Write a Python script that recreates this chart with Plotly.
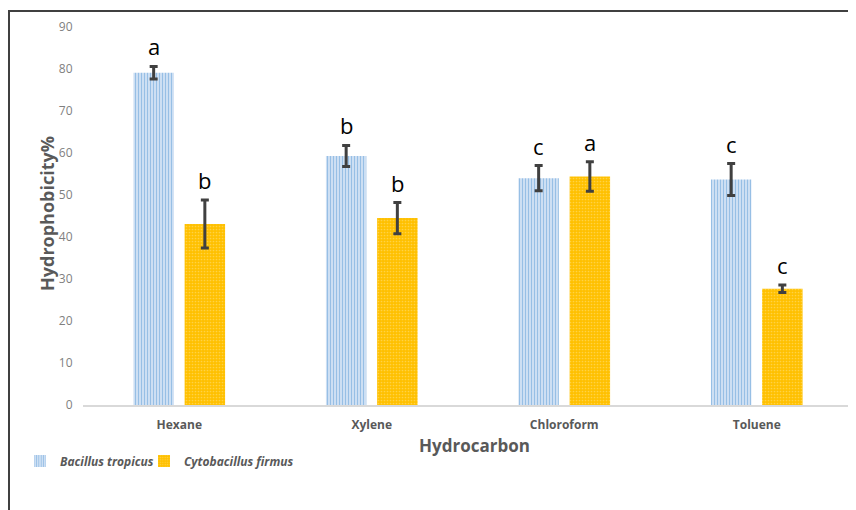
import plotly.graph_objects as go

categories = ["Hexane", "Xylene", "Chloroform", "Toluene"]
bt_values = [79.1, 59.3, 54.0, 53.7]
bt_errors = [1.5, 2.5, 3.0, 3.8]
bt_letters = ["a", "b", "c", "c"]
cf_values = [43.1, 44.5, 54.4, 27.7]
cf_errors = [5.7, 3.7, 3.5, 0.9]
cf_letters = ["b", "b", "a", "c"]
y_ticks = [0, 10, 20, 30, 40, 50, 60, 70, 80, 90]

OFF = 8  # page body margin
W, H = 856 - OFF, 510 - OFF
# desired absolute plot area: x 83..853, y 27..405
L, R, T, B = 83 - OFF, 3, 27 - OFF, 510 - 405
pw, ph = W - L - R, H - T - B


def px(xa):
    return (xa - 83) / pw


def py(ya):
    return (405 - ya) / ph


fig = go.Figure()
fig.add_trace(go.Bar(
    x=categories, y=bt_values, name="<b><i>Bacillus tropicus</i></b>", legend="legend",
    marker=dict(color="#cfe0f2", line=dict(width=0),
                pattern=dict(shape="|", fgcolor="#5b9bd5", bgcolor="#d3e3f4", size=3, solidity=0.4)),
    error_y=dict(type="data", array=bt_errors, color="#404040", thickness=3, width=4),
))
fig.add_trace(go.Bar(
    x=categories, y=cf_values, name="<b><i>Cytobacillus firmus</i></b>", legend="legend2",
    marker=dict(color="#FFC000", line=dict(width=0),
                pattern=dict(shape=".", fgcolor="#ffe38a", bgcolor="#FFC000", size=3, solidity=0.25)),
    error_y=dict(type="data", array=cf_errors, color="#404040", thickness=3, width=4),
))

annotations = []
for i, c in enumerate(categories):
    annotations.append(dict(x=c, y=bt_values[i] + bt_errors[i], xref="x", yref="y", text=bt_letters[i],
                            showarrow=False, xshift=-25.6, yanchor="bottom", yshift=3,
                            font=dict(size=22, color="#000000", family="Open Sans")))
    annotations.append(dict(x=c, y=cf_values[i] + cf_errors[i], xref="x", yref="y", text=cf_letters[i],
                            showarrow=False, xshift=25.6, yanchor="bottom", yshift=3,
                            font=dict(size=22, color="#000000", family="Open Sans")))

annotations.append(dict(x=px(47), y=py(214), xref="paper", yref="paper", text="<b>Hydrophobicity%</b>",
                        textangle=-90, showarrow=False, xanchor="center", yanchor="middle",
                        font=dict(size=18, color="#595959", family="Open Sans")))
annotations.append(dict(x=px(475), y=py(445), xref="paper", yref="paper", text="<b>Hydrocarbon</b>",
                        showarrow=False, xanchor="center", yanchor="middle",
                        font=dict(size=17, color="#595959", family="Open Sans")))

shapes = [
    dict(type="line", xref="paper", yref="paper", x0=px(8), x1=px(870),
         y0=py(11), y1=py(11), line=dict(color="#404040", width=2)),
    dict(type="line", xref="paper", yref="paper", x0=px(9), x1=px(9),
         y0=py(10), y1=py(530), line=dict(color="#404040", width=2)),
]

legend_common = dict(orientation="h", xanchor="left", yanchor="middle",
                     font=dict(size=12, color="#595959", family="Open Sans"),
                     bgcolor="rgba(0,0,0,0)")

fig.update_layout(
    width=W, height=H,
    margin=dict(l=L, r=R, t=T, b=B, autoexpand=False),
    paper_bgcolor="white", plot_bgcolor="white",
    barmode="group", bargap=0.468, bargroupgap=0.21,
    showlegend=True,
    legend=dict(x=px(20), y=py(461), **legend_common),
    legend2=dict(x=px(144), y=py(461), **legend_common),
    xaxis=dict(showline=True, linecolor="#d9d9d9", linewidth=1.5, showgrid=False, zeroline=False,
               tickfont=dict(size=12, color="#595959", family="Open Sans"), ticks="outside",
               ticklen=8, tickcolor="rgba(0,0,0,0)", tickprefix="<b>", ticksuffix="</b>"),
    yaxis=dict(range=[0, 90], tickvals=y_ticks, showline=False, showgrid=False, zeroline=False,
               tickfont=dict(size=12, color="#7f7f7f", family="Open Sans"), ticks="outside",
               ticklen=7, tickcolor="rgba(0,0,0,0)"),
    annotations=annotations, shapes=shapes,
)

fig.write_html("out.html")
